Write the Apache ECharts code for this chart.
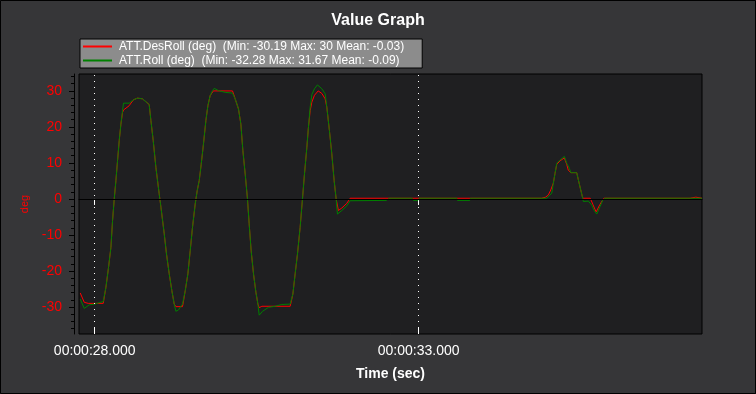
<!DOCTYPE html>
<html>
<head>
<meta charset="utf-8">
<script src="https://cdn.jsdelivr.net/npm/echarts@6/dist/echarts.min.js"></script>
<style>
html,body{margin:0;padding:0;background:#363638;}
#chart{width:756px;height:394px;}
</style>
</head>
<body>
<div id="chart"></div>
<script>
// ---- data ----
var seriesNames = [
  'ATT.DesRoll (deg)  (Min: -30.19 Max: 30 Mean: -0.03)',
  'ATT.Roll (deg)  (Min: -32.28 Max: 31.67 Mean: -0.09)'
];
var xTickValues = [28, 33];
var yMajorTicks = [-30, -20, -10, 0, 10, 20, 30];
var yMinorTicks = [-36, -34, -32, -30, -28, -26, -24, -22, -20, -18, -16, -14, -12, -10, -8, -6, -4, -2, 0,
  2, 4, 6, 8, 10, 12, 14, 16, 18, 20, 22, 24, 26, 28, 30, 32, 34];

var timeRoll = [27.776, 27.838, 27.915, 27.992, 28.131, 28.173, 28.213, 28.250, 28.275, 28.301, 28.327, 28.352,
  28.378, 28.404, 28.429, 28.444, 28.532, 28.594, 28.660, 28.738, 28.841, 28.867, 28.903, 28.944, 28.995, 29.022,
  29.073, 29.108, 29.150, 29.191, 29.227, 29.253, 29.293, 29.319, 29.355, 29.397, 29.438, 29.474, 29.509, 29.551,
  29.582, 29.613, 29.644, 29.679, 29.716, 29.747, 29.782, 29.818, 29.844, 29.910, 30.014, 30.127, 30.168, 30.219,
  30.256, 30.287, 30.323, 30.358, 30.384, 30.415, 30.451, 30.488, 30.519, 30.539, 30.590, 30.682, 30.785, 30.889,
  31.017, 31.059, 31.094, 31.130, 31.171, 31.207, 31.238, 31.275, 31.299, 31.326, 31.352, 31.392, 31.438, 31.506,
  31.557, 31.583, 31.623, 31.660, 31.696, 31.727, 31.747, 31.815, 31.892, 31.943, 32.498, 32.550, 32.900, 32.920,
  32.990, 33.010, 33.590, 33.600, 33.790, 33.800, 34.978, 35.003, 35.056, 35.080, 35.106, 35.133, 35.184, 35.250,
  35.287, 35.327, 35.349, 35.441, 35.466, 35.503, 35.534, 35.543, 35.620, 35.673, 35.708, 35.750, 35.801, 35.843,
  35.878, 37.375];
var valRoll = [-27.8, -30.4, -29.4, -29.2, -28.5, -24.5, -19.0, -13.4, -6.0, 0.0, 5.1, 10.6,
  16.2, 20.8, 24.5, 26.6, 26.6, 27.5, 28.0, 27.8, 26.2, 21.8, 16.2, 8.8, 1.4, -2.3,
  -9.7, -15.3, -20.8, -25.5, -29.2, -31.2, -30.8, -30.6, -29.2, -25.5, -20.8, -14.4, -7.9, -1.4,
  2.3, 5.1, 9.7, 15.3, 21.8, 25.9, 28.7, 30.1, 30.7, 30.1, 29.6, 29.4, 27.8, 25.0,
  20.8, 13.4, 6.9, 0.0, -6.9, -14.4, -20.8, -25.9, -29.2, -32.28, -31.2, -30.1, -29.8, -29.3,
  -29.2, -26.4, -20.8, -15.3, -7.9, 0.0, 6.9, 14.4, 19.9, 25.5, 29.0, 30.6, 31.67, 30.6,
  29.2, 25.5, 19.0, 12.5, 5.1, 0.0, -4.2, -3.2, -1.9, -0.5, -0.4, 0.2, 0.2, -0.4,
  -0.4, 0.2, 0.2, -0.4, -0.4, 0.2, 0.2, 0.6, 1.6, 4.4, 7.1, 9.9, 10.8, 11.8,
  9.9, 8.5, 7.3, 7.3, 5.3, 2.5, 0.2, -0.7, -0.6, -1.7, -3.1, -4.2, -2.1, -0.3,
  0.2, 0.2];

var timeDes = [27.776, 27.838, 27.900, 28.131, 28.173, 28.213, 28.250, 28.275, 28.301, 28.327, 28.352, 28.378,
  28.404, 28.429, 28.444, 28.532, 28.594, 28.660, 28.738, 28.841, 28.867, 28.903, 28.944, 28.995, 29.022, 29.073,
  29.108, 29.150, 29.191, 29.227, 29.253, 29.355, 29.397, 29.438, 29.474, 29.509, 29.551, 29.582, 29.613, 29.644,
  29.679, 29.716, 29.747, 29.782, 29.830, 30.127, 30.168, 30.219, 30.256, 30.287, 30.323, 30.358, 30.384, 30.415,
  30.451, 30.488, 30.519, 30.539, 30.580, 31.017, 31.059, 31.094, 31.130, 31.171, 31.207, 31.238, 31.275, 31.299,
  31.326, 31.352, 31.392, 31.450, 31.506, 31.557, 31.583, 31.623, 31.660, 31.696, 31.727, 31.762, 31.815, 31.892,
  31.943, 34.900, 34.960, 35.003, 35.040, 35.080, 35.106, 35.133, 35.184, 35.250, 35.287, 35.310, 35.349, 35.441,
  35.466, 35.503, 35.534, 35.650, 35.690, 35.740, 35.800, 35.860, 37.190, 37.200, 37.280, 37.290, 37.375];
var valDes = [-26.1, -28.7, -29.0, -29.0, -24.5, -19.0, -13.4, -6.0, 0.0, 5.1, 10.6, 16.2,
  20.8, 24.0, 24.7, 25.9, 27.5, 28.0, 27.8, 26.2, 21.8, 16.2, 8.8, 1.4, -2.3, -9.7,
  -15.3, -20.8, -25.5, -29.2, -29.9, -29.9, -25.5, -20.8, -14.4, -7.9, -1.4, 2.3, 5.1, 9.7,
  15.3, 21.8, 25.9, 28.7, 30.0, 30.0, 27.8, 25.0, 20.8, 13.4, 6.9, 0.0, -6.9, -14.4,
  -20.8, -25.9, -29.2, -30.19, -29.8, -29.8, -26.4, -20.8, -15.3, -7.9, 0.0, 6.9, 14.4, 19.9,
  24.5, 26.9, 28.8, 30.0, 29.3, 27.8, 25.5, 19.0, 12.5, 5.1, 0.0, -3.2, -2.5, -1.2,
  0.2, 0.2, 0.5, 1.1, 2.5, 4.4, 7.1, 9.6, 10.6, 11.4, 9.6, 8.0, 7.3, 7.3,
  5.3, 2.5, 0.2, 0.2, -1.5, -3.6, -1.5, 0.2, 0.2, 0.5, 0.5, 0.2, 0.2];

var xMin = 27.757, xMax = 37.375;
var yMin = -37.5, yMax = 34.7;

// ---- chart ----
function zip(ts, vs) { return ts.map(function (t, i) { return [t, vs[i]]; }); }
function fmtTime(v) {
  var s = Math.floor(v);
  var ms = Math.round((v - s) * 1000);
  var mm = Math.floor(s / 60), ss = s % 60;
  function p(n, w) { n = String(n); while (n.length < w) n = '0' + n; return n; }
  return '00:' + p(mm, 2) + ':' + p(ss, 2) + '.' + p(ms, 3);
}
var FONT = "'Liberation Sans', Arial, sans-serif";
var chart = echarts.init(document.getElementById('chart'), null, { renderer: 'canvas' });

var commonX = { type: 'value', min: xMin, max: xMax, splitLine: { show: false } };

chart.setOption({
  animation: false,
  backgroundColor: '#363638',
  textStyle: { fontFamily: FONT },
  title: {
    text: 'Value Graph', left: 'center', top: 8,
    textStyle: { color: '#ffffff', fontSize: 16, fontWeight: 'bold', fontFamily: FONT }
  },
  legend: {
    orient: 'vertical', left: 80, top: 39,
    backgroundColor: '#8c8c8c', borderColor: '#000000', borderWidth: 1,
    padding: [1, 18, 1, 3], itemGap: 1, itemWidth: 29, itemHeight: 2, icon: 'rect',
    textStyle: { color: '#ffffff', fontSize: 12, fontFamily: FONT, lineHeight: 13, padding: [0, 0, 0, 2] },
    data: seriesNames
  },
  graphic: [{
    type: 'rect', silent: true, z: 100,
    shape: { x: 0.5, y: 0.5, width: 755, height: 393 },
    style: { fill: 'none', stroke: '#000000', lineWidth: 1 }
  }],
  grid: {
    left: 79, right: 54, top: 74, bottom: 60, show: true,
    backgroundColor: '#1f1f21', borderColor: '#000000', borderWidth: 1
  },
  xAxis: [
    Object.assign({}, commonX, {
      position: 'bottom',
      name: 'Time (sec)', nameLocation: 'middle', nameGap: 33,
      nameTextStyle: { color: '#ffffff', fontSize: 14, fontWeight: 'bold', fontFamily: FONT },
      axisLine: { show: true, lineStyle: { color: '#000000' } },
      axisTick: { show: true, customValues: xTickValues, length: 6, lineStyle: { color: '#ffffff' } },
      axisLabel: { show: true, customValues: xTickValues, color: '#ffffff', fontSize: 14, margin: 10, fontFamily: FONT, formatter: fmtTime }
    }),
    Object.assign({}, commonX, {
      position: 'top',
      axisLine: { show: false },
      axisTick: { show: true, inside: true, customValues: xTickValues, length: 5, lineStyle: { color: '#ffffff' } },
      axisLabel: { show: false }
    }),
    Object.assign({}, commonX, {
      position: 'bottom',
      axisLine: { show: false },
      axisTick: { show: true, inside: true, customValues: xTickValues, length: 6, lineStyle: { color: '#ffffff' } },
      axisLabel: { show: false }
    })
  ],
  yAxis: [
    {
      type: 'value', min: yMin, max: yMax, position: 'left', offset: 5,
      name: 'deg', nameLocation: 'middle', nameGap: 39,
      nameTextStyle: { color: '#ff0000', fontSize: 11, fontFamily: FONT },
      splitLine: { show: false },
      axisLine: { show: true, lineStyle: { color: '#000000' } },
      axisTick: { show: true, customValues: yMajorTicks, length: 5, lineStyle: { color: '#000000' } },
      axisLabel: { show: true, customValues: yMajorTicks, color: '#ff0000', fontSize: 14, margin: 12, fontFamily: FONT }
    },
    {
      type: 'value', min: yMin, max: yMax, position: 'left', offset: 5,
      splitLine: { show: false },
      axisLine: { show: false },
      axisTick: { show: true, customValues: yMinorTicks, length: 3, lineStyle: { color: '#000000' } },
      axisLabel: { show: false }
    }
  ],
  series: [
    {
      name: seriesNames[0], type: 'line', xAxisIndex: 0, yAxisIndex: 0,
      data: zip(timeDes, valDes), showSymbol: false, symbol: 'none',
      color: '#ff0000', lineStyle: { width: 1, color: '#ff0000' },
      markLine: {
        silent: true, symbol: ['none', 'none'], label: { show: false },
        lineStyle: { color: '#ffffff', width: 1, type: [1, 5] },
        data: xTickValues.map(function (v) { return { xAxis: v }; }).concat([
          { yAxis: 0, lineStyle: { color: '#000000', width: 1, type: 'solid' } }
        ])
      }
    },
    {
      name: seriesNames[1], type: 'line', xAxisIndex: 0, yAxisIndex: 0,
      data: zip(timeRoll, valRoll), showSymbol: false, symbol: 'none',
      color: '#008000', lineStyle: { width: 1, color: '#008000' }
    }
  ]
});
</script>
</body>
</html>
